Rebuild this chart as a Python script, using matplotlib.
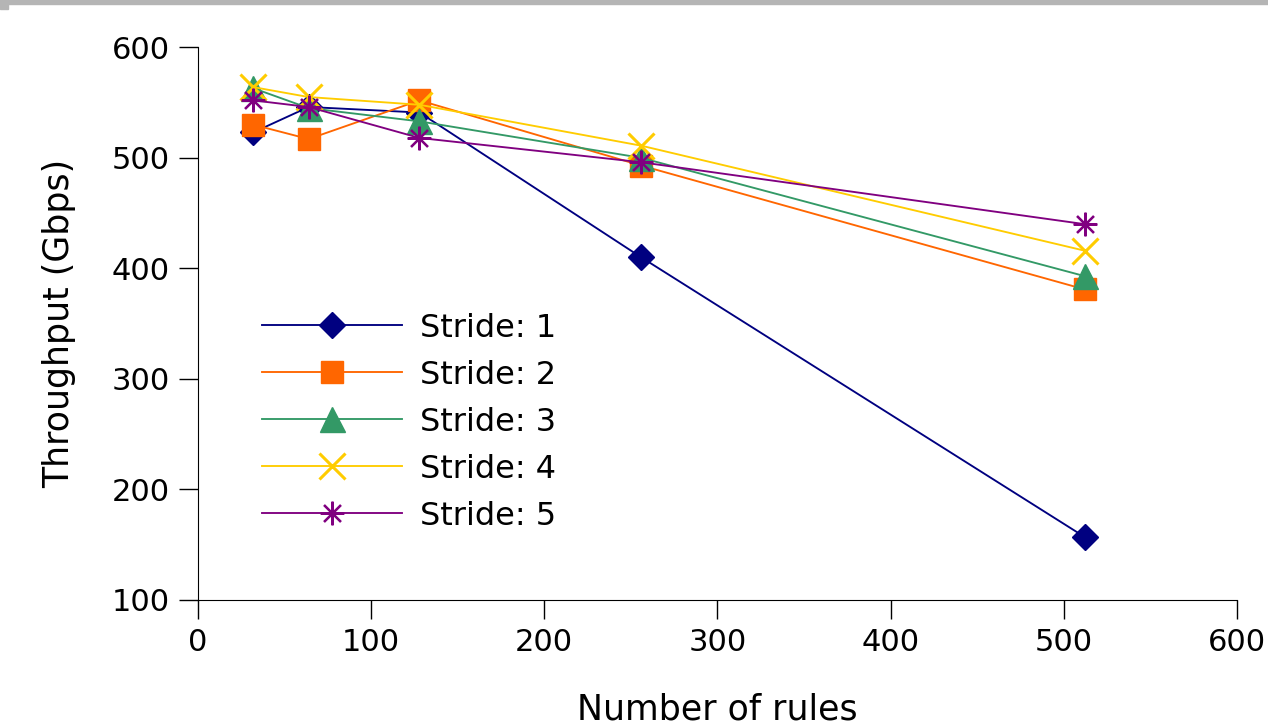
import matplotlib.pyplot as plt
from matplotlib.patches import Rectangle

# data
rules = [32, 64, 128, 256, 512]
stride_1 = [523, 546, 541, 410, 157]
stride_2 = [530, 517, 552, 493, 381]
stride_3 = [563, 545, 533, 500, 393]
stride_4 = [564, 555, 548, 511, 416]
stride_5 = [552, 546, 518, 496, 440]

labels = ["Stride: 1", "Stride: 2", "Stride: 3", "Stride: 4", "Stride: 5"]
colors = ["#000080", "#FF6600", "#339966", "#FFCC00", "#800080"]

plt.rcParams["font.family"] = "DejaVu Sans"

fig = plt.figure(figsize=(12.68, 7.28), dpi=100)
ax = fig.add_axes([0.156, 0.176, 0.8195, 0.759])

# thin grey band at the very top, as in the screenshot
fig.patches.append(Rectangle((0, 0.995), 1, 0.005, transform=fig.transFigure,
                             color="#b5b5b5", zorder=0))
fig.patches.append(Rectangle((0, 0.988), 0.006, 0.012, transform=fig.transFigure,
                             color="#b5b5b5", zorder=0))

series = [stride_1, stride_2, stride_3, stride_4, stride_5]
styles = [
    dict(marker="D", markersize=13),
    dict(marker="s", markersize=16),
    dict(marker="^", markersize=18),
    dict(marker="x", markersize=19, markeredgewidth=2.2),
    dict(marker=(8, 2, 0), markersize=17, markeredgewidth=1.6),
]

for y, lab, col, st in zip(series, labels, colors, styles):
    ax.plot(rules, y, color=col, linewidth=1.35, label=lab,
            markeredgecolor=col, markerfacecolor=col, **st)

ax.set_xlim(0, 600)
ax.set_ylim(100, 600)
ax.set_xticks(range(0, 601, 100))
ax.set_yticks(range(100, 601, 100))
ax.tick_params(direction="out", length=14, width=1, labelsize=22, pad=6)

for side in ("top", "right"):
    ax.spines[side].set_visible(False)

ax.set_xlabel("Number of rules", fontsize=25, labelpad=26)
ax.set_ylabel("Throughput (Gbps)", fontsize=25, labelpad=26)

ax.legend(loc="upper left", bbox_to_anchor=(0.049, 0.543), frameon=False,
          fontsize=23, handlelength=4.4, handletextpad=0.55, labelspacing=0.5,
          borderaxespad=0)

fig.savefig("out.png", dpi=100)
